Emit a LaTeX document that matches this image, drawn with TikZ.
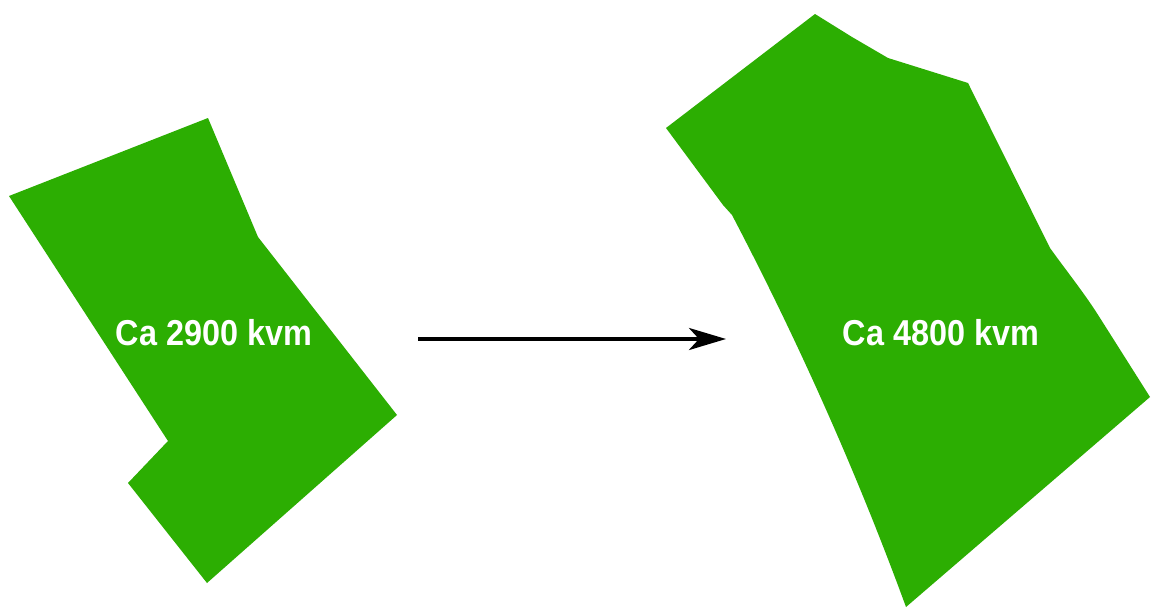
\documentclass[tikz,border=0pt]{standalone}
\usepackage{fontspec}
\setmainfont{Liberation Sans}
\newfontfamily\labfont[FakeStretch=0.9]{Liberation Sans Bold}
\usetikzlibrary{arrows.meta}
\definecolor{plotgreen}{RGB}{44,174,2}
\tikzset{
  plot/.style={fill=plotgreen, draw=none},
  arealabel/.style={text=white, font=\labfont\fontsize{36}{40}\selectfont, inner sep=0pt},
  growarrow/.style={line width=4pt, -{Stealth[length=37pt,width=22pt,inset=10pt]}}
}
\begin{document}
\begin{tikzpicture}[x=1pt,y=-1pt]
  \fill[white] (0,0) rectangle (1151,608);
  \useasboundingbox (0,0) rectangle (1151,608);
  % old plot
  \path[plot] (208,118) -- (9,196) -- (168,441) -- (128,483) -- (207,583)
     -- (397,415) -- (258,237) -- cycle;
  % new plot
  \path[plot] (815,14) -- (852,37) -- (888,58) -- (968,83) -- (1050,248)
     .. controls (1068,273) and (1085,294) .. (1100,318) -- (1150,397) -- (906,607)
     .. controls (856.5,472) and (798.5,342) .. (732,215)
     -- (723,205) -- (666,128) -- cycle;
  \node[arealabel] (old) at (214,333) {Ca 2900 kvm};
  \node[arealabel] (new) at (941,333) {Ca 4800 kvm};
  \coordinate (astart) at (418,339);
  \coordinate (aend) at (726,339);
  \draw[growarrow] (astart) -- (aend);
\end{tikzpicture}
\end{document}
